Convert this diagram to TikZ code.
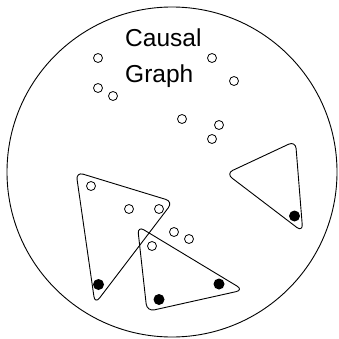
\documentclass[tikz,border=0pt]{standalone}
\usepackage{fontspec}
\setmainfont{Liberation Sans}
\begin{document}
\begin{tikzpicture}[x=1pt,y=-1pt,
  odot/.style={circle,draw,line width=0.8pt,minimum size=9pt,inner sep=0pt},
  fdot/.style={circle,fill,minimum size=11pt,inner sep=0pt},
  tri/.style={draw,line width=0.9pt,rounded corners=7.5pt},
  lbl/.style={anchor=base west,inner sep=0pt,font=\fontsize{24.5}{29}\selectfont}]
\useasboundingbox (0,0) rectangle (339,339);
\node[circle,draw,line width=0.9pt,minimum size=330pt,inner sep=0pt] (world) at (172,172) {};
\node[lbl] (t1) at (125,46.7) {Causal};
\node[lbl] (t2) at (125,83) {Graph};
% open nodes
\node[odot] (a1) at (98,58) {};
\node[odot] (a2) at (212,58) {};
\node[odot] (a3) at (234,81) {};
\node[odot] (a4) at (98,88) {};
\node[odot] (a5) at (113,96) {};
\node[odot] (a6) at (182,119) {};
\node[odot] (a7) at (219,125) {};
\node[odot] (a8) at (212,139) {};
\node[odot] (b1) at (91,186) {};
\node[odot] (b2) at (129,209) {};
\node[odot] (b3) at (159,209) {};
\node[odot] (b4) at (174,232) {};
\node[odot] (b5) at (189,239) {};
\node[odot] (b6) at (152,246) {};
% filled nodes
\node[fdot] (c1) at (98.5,284.5) {};
\node[fdot] (c2) at (159,299.5) {};
\node[fdot] (c3) at (219,284) {};
\node[fdot] (c4) at (294.5,216) {};
% triangles
\coordinate (p1) at (76,172);
\coordinate (p2) at (173,201.6);
\coordinate (p3) at (95,304);
\coordinate (q1) at (137.5,226);
\coordinate (q2) at (243.5,290);
\coordinate (q3) at (147,311.5);
\coordinate (r1) at (226,173.5);
\coordinate (r2) at (295.5,141);
\coordinate (r3) at (302.8,232);
\draw[tri] (p1) -- (p2) -- (p3) -- cycle;
\draw[tri] (q1) -- (q2) -- (q3) -- cycle;
\draw[tri] (r1) -- (r2) -- (r3) -- cycle;
\end{tikzpicture}
\end{document}
